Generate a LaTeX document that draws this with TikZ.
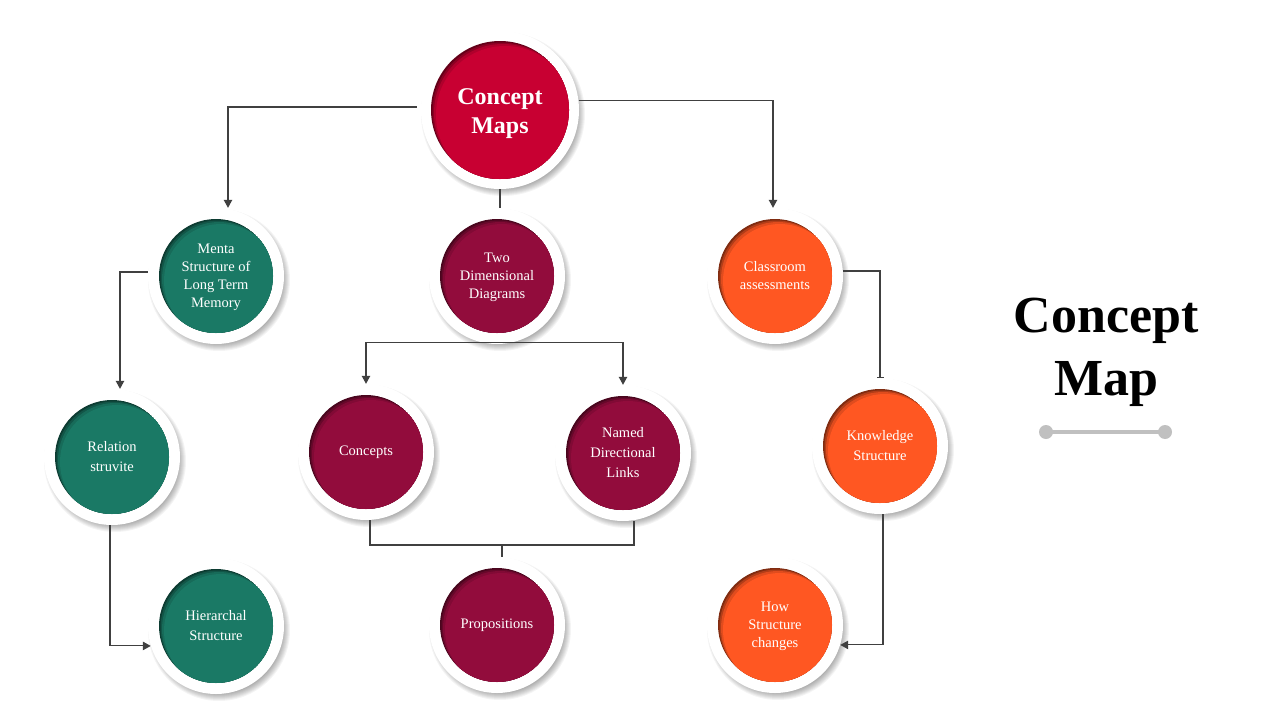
\documentclass[tikz,border=0pt]{standalone}
\usepackage{fontspec}
\setmainfont{Liberation Serif}
\usetikzlibrary{arrows.meta}
\definecolor{cmred}{RGB}{200,0,50}
\definecolor{cmgreen}{RGB}{26,121,101}
\definecolor{cmmaroon}{RGB}{146,12,60}
\definecolor{cmorange}{RGB}{255,87,34}
\definecolor{linegray}{RGB}{64,64,64}
\definecolor{barGray}{RGB}{192,192,192}
\tikzset{
  ring/.style={circle, fill=white, inner sep=0pt},
  lbl/.style={text=white, align=center, font=\fontsize{14.5}{18}\selectfont},
  lblw/.style={text=white, align=center, font=\fontsize{14.5}{20}\selectfont},
  biglbl/.style={text=white, align=center, font=\fontsize{24}{29}\selectfont\bfseries},
  conn/.style={draw=linegray, line width=1.1pt},
  arr/.style={conn, -{Triangle[length=8pt,width=8.5pt]}},
  barend/.style={conn, -{Bar[width=7pt]}},
}
\newcommand\bub[9]{%
  \foreach \k in {0,...,7}{\fill[black,opacity=0.045] (#2+3,#3+4) circle ({#4+3-\k});}
  \node[ring, minimum size=2*#4] (#1) at (#2,#3) {};
  \begin{scope}
    \clip (#2,#3) circle (#5);
    \fill[#6!50!black] (#2,#3) circle (#5);
    \fill[#6!70!black] (#2+1.5,#3+1.5) circle (#5);
    \fill[#6!88!black] (#2+3,#3+3) circle (#5);
    \fill[#6] (#2+5,#3+5) circle (#5);
  \end{scope}
  \node[#7] (#1t) at (#2,#3+#8) {#9};
}
\begin{document}
\begin{tikzpicture}[x=1pt,y=-1pt]
\fill[white] (0,0) rectangle (1280,720);
\useasboundingbox (0,0) rectangle (1280,720);

\coordinate (pm) at (502,545);

\bub{cm}{500}{110}{79}{69}{cmred}{biglbl}{4}{Concept\\Maps}
\bub{ms}{216}{276}{68}{57}{cmgreen}{lbl}{1}{Menta\\Structure of\\Long Term\\Memory}
\bub{td}{497}{276}{68}{57}{cmmaroon}{lbl}{1}{Two\\Dimensional\\Diagrams}
\bub{ca}{775}{276}{68}{57}{cmorange}{lbl}{0}{Classroom\\assessments}
\bub{rs}{112}{457}{68}{57}{cmgreen}{lblw}{0}{Relation\\struvite}
\bub{co}{366}{452}{68}{57}{cmmaroon}{lbl}{0}{Concepts}
\bub{na}{623}{453}{68}{57}{cmmaroon}{lblw}{0}{Named\\Directional\\Links}
\bub{ks}{880}{446}{68}{57}{cmorange}{lblw}{0}{Knowledge\\Structure}
\bub{hc}{216}{626}{68}{57}{cmgreen}{lblw}{0}{Hierarchal\\Structure}
\bub{pr}{497}{625}{68}{57}{cmmaroon}{lbl}{0}{Propositions}
\bub{hs}{775}{625}{68}{57}{cmorange}{lbl}{1}{How\\Structure\\changes}

% connectors
\draw[arr] ([xshift=-4pt,yshift=3pt]cm.west) -| ([xshift=12pt]ms.north);
\draw[arr] (cm.7) -| ([xshift=-2pt]ca.north);
\draw[conn] (cm.south) -- (cm.south |- td.north);
\draw[arr] ([yshift=4pt]ms.west) -| ([xshift=8pt]rs.north);
\draw[arr] ([yshift=2pt]td.south) -| (co.north);
\draw[arr] ([yshift=2pt]td.south) -| (na.north);
\draw[barend] ([yshift=5pt]ca.east) -| (ks.north);
\draw[conn] ([xshift=4pt]co.south) |- (pm) -| ([xshift=11pt]na.south);
\draw[conn] (pm) -- (pm |- pr.north);
\draw[arr] ([xshift=-2pt]rs.south) |- (hc.197);
\draw[arr] ([xshift=3pt]ks.south) |- (hs.-17);

% title
\node[font=\fontsize{52}{63}\selectfont\bfseries, align=center] (title) at (1106,352) {Concept\\Map};
\coordinate (gl) at (1046,432);
\coordinate (gr) at (1165,432);
\draw[barGray, line width=3.5pt] (gl) -- (gr);
\fill[barGray] (gl) circle (7) (gr) circle (7);
\end{tikzpicture}
\end{document}
